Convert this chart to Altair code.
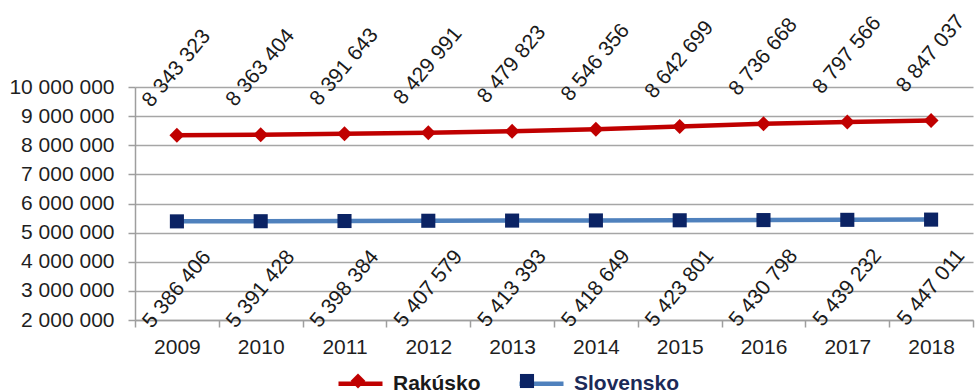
import altair as alt
import pandas as pd

years = ["2009", "2010", "2011", "2012", "2013", "2014", "2015", "2016", "2017", "2018"]
rakusko = [8343323, 8363404, 8391643, 8429991, 8479823, 8546356, 8642699, 8736668, 8797566, 8847037]
slovensko = [5386406, 5391428, 5398384, 5407579, 5413393, 5418649, 5423801, 5430798, 5439232, 5447011]
series = ["Rakúsko", "Slovensko"]
y_ticks = [2000000, 3000000, 4000000, 5000000, 6000000, 7000000, 8000000, 9000000, 10000000]

df = pd.DataFrame({
    "rok": years + years,
    "krajina": [series[0]] * len(years) + [series[1]] * len(years),
    "hodnota": rakusko + slovensko,
})

FONT = "Liberation Sans"
line_colors = ["#C00000", "#4F81BD"]
marker_colors = ["#C00000", "#0B2364"]
marker_paths = [
    "M0,-0.34L0.34,0L0,0.34L-0.34,0Z",
    "M-0.32,-0.32L0.32,-0.32L0.32,0.32L-0.32,0.32Z",
]
num_expr = "replace(format(datum.value, ','), regexp(',', 'g'), ' ')"
lbl_expr = "replace(format(datum.hodnota, ','), regexp(',', 'g'), ' ')"

x = alt.X(
    "rok:O",
    scale=alt.Scale(type="band", paddingInner=0, paddingOuter=0),
    bandPosition=0.5,
    axis=alt.Axis(title=None, labelAngle=0, tickBand="extent", tickSize=7,
                  labelPadding=9, labelFontSize=21, grid=False),
)
y = alt.Y(
    "hodnota:Q",
    scale=alt.Scale(domain=[2000000, 10000000], nice=False, zero=False),
    axis=alt.Axis(title=None, values=y_ticks, labelExpr=num_expr, tickSize=7,
                  labelPadding=14, labelFontSize=21, grid=True),
)

base = alt.Chart(df).encode(x=x, y=y)

legend_common = dict(
    orient="none", legendX=201, legendY=272, direction="horizontal",
    title=None, columnPadding=29, labelOffset=8, labelFontSize=21,
    labelFontWeight="bold", labelFont=FONT, padding=0, symbolSize=1936,
)

lines = base.mark_line(strokeWidth=4.5).encode(
    color=alt.Color(
        "krajina:N",
        scale=alt.Scale(domain=series, range=line_colors),
        legend=alt.Legend(
            symbolType="stroke", symbolStrokeWidth=4.5,
            labelColor=alt.ExprRef("datum.value === 'Slovensko' ? '#1c2a58' : '#1a1a1a'"),
            **legend_common),
    )
)

marker_legend = alt.Legend(labelOpacity=0, symbolStrokeWidth=0, zindex=2, **legend_common)
points = base.transform_calculate(znacka="datum.krajina").mark_point(
    filled=True, size=1936, opacity=1, strokeWidth=0
).encode(
    shape=alt.Shape("znacka:N", scale=alt.Scale(range=marker_paths), legend=marker_legend),
    fill=alt.Fill("znacka:N", scale=alt.Scale(range=marker_colors), legend=marker_legend),
)

top_labels = base.transform_filter(
    alt.datum.krajina == series[0]
).transform_calculate(lbl=lbl_expr).mark_text(
    angle=310, align="center", baseline="middle", dx=51, dy=-43,
    fontSize=21, font=FONT, color="#1a1a1a",
).encode(text="lbl:N")

bottom_labels = base.transform_filter(
    alt.datum.krajina == series[1]
).transform_calculate(lbl=lbl_expr).mark_text(
    angle=310, align="center", baseline="middle", dx=-52, dy=44,
    fontSize=21, font=FONT, color="#1a1a1a",
).encode(text="lbl:N")

chart = alt.layer(lines, points, top_labels, bottom_labels).resolve_legend(
    color="independent", shape="independent", fill="independent"
).properties(
    width=838, height=233,
    autosize=alt.AutoSizeParams(type="none"),
    padding={"left": 135, "top": 87, "right": 2, "bottom": 71},
).configure(font=FONT).configure_view(stroke=None).configure_axis(
    labelFont=FONT, labelColor="#1f1f1f",
    domainColor="#9e9e9e", domainWidth=1.5,
    tickColor="#9e9e9e", tickWidth=1.5,
    gridColor="#a6a6a6", gridWidth=1.5,
)

chart.save("out.html", embed_options={"renderer": "svg", "actions": False})
